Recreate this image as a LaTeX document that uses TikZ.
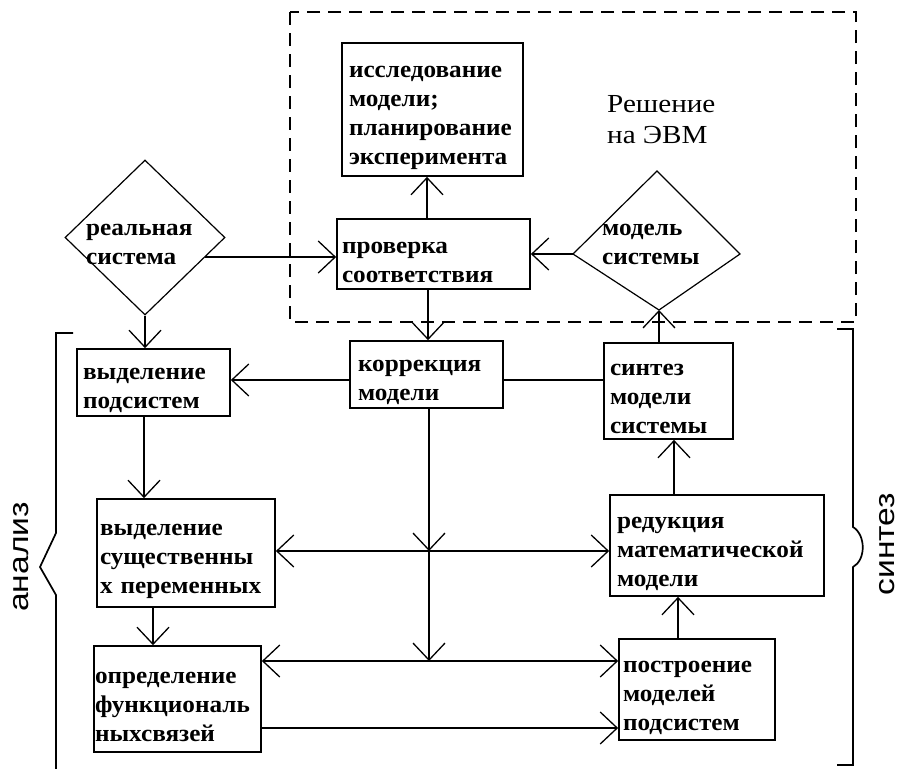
\documentclass[tikz,border=0pt]{standalone}
\usepackage{fontspec}
\setmainfont{Liberation Serif}
\newfontfamily\boxfam[FakeStretch=1.05]{Liberation Serif}
\newfontfamily\reshfam[FakeStretch=1.12]{Liberation Serif}
\newfontfamily\sidefam[FakeStretch=1.2]{Liberation Sans}
\usetikzlibrary{arrows.meta,shapes.geometric,calc}
\newcommand\boxtxt{\boxfam\bfseries\fontsize{24}{29}\selectfont}
\newcommand\reshtxt{\reshfam\fontsize{26}{31}\selectfont}
\newcommand\sidetxt{\sidefam\fontsize{28}{32}\selectfont}
\begin{document}
\begin{tikzpicture}[x=1pt,y=-1pt,
  box/.style={draw, line width=1.7pt, inner ysep=0pt, align=left, font=\boxtxt,
    execute at begin node={\rule{0pt}{28pt}}},
  dtxt/.style={align=left, font=\boxtxt, inner sep=0pt, anchor=west},
  dia/.style={draw, diamond, line width=1.2pt, inner sep=0pt},
  arr/.style={line width=1.7pt, -{Straight Barb[length=17pt,width=32pt,line width=1.3pt]}},
  biarr/.style={line width=1.7pt, {Straight Barb[length=17pt,width=32pt,line width=1.3pt]}-{Straight Barb[length=17pt,width=32pt,line width=1.3pt]}},
  plain/.style={line width=1.7pt},
  brace/.style={line width=1.7pt},
  sidelabel/.style={rotate=90, font=\sidetxt, inner sep=0pt}]
\useasboundingbox[fill=white] (0,0) rectangle (903,769);

% dashed region
\draw[line width=1.6pt, dash pattern=on 13pt off 8pt] (290,12) rectangle (856,322);
\node[font=\reshtxt, align=left, anchor=north west, inner sep=0pt] (resh) at (607,95) {Решение\\на ЭВМ};

% boxes
\node[box, minimum height=133pt, text width=167pt, inner xsep=7pt] (isl) at (432.5,109.5)
  {исследование\\модели;\\планирование\\эксперимента};
\node[box, minimum height=70pt, text width=183pt, inner xsep=5pt] (prov) at (433.5,254)
  {проверка\\соответствия};
\node[box, minimum height=67pt, text width=137pt, inner xsep=8pt] (korr) at (426.5,374.5)
  {коррекция\\модели};
\node[box, minimum height=67pt, text width=141pt, inner xsep=6pt] (vp) at (153.5,382.5)
  {выделение\\подсистем};
\node[box, minimum height=96pt, text width=117pt, inner xsep=6pt] (sint) at (668.5,391)
  {синтез\\модели\\системы};
\node[box, minimum height=108pt, text width=172pt, inner xsep=3pt] (vs) at (186,553)
  {выделение\\существенны\\х переменных};
\node[box, minimum height=101pt, text width=200pt, inner xsep=7pt] (red) at (717,545.5)
  {редукция\\математической\\модели};
\node[box, minimum height=106pt, text width=165pt, inner xsep=1pt] (opr) at (177.5,699)
  {определение\\функциональ\\ныхсвязей};
\node[box, minimum height=101pt, text width=148pt, inner xsep=4pt] (post) at (697,689.5)
  {построение\\моделей\\подсистем};

% diamonds
\node[dia, minimum width=160pt, minimum height=155pt] (real) at (145,237.5) {};
\node[dtxt] (realt) at (86,244) {реальная\\система};
\coordinate (mT) at (657,171);
\coordinate (mR) at (740,254);
\coordinate (mB) at (659,310);
\coordinate (mL) at (573,254);
\draw[line width=1.2pt] (mT) -- (mR) -- (mB) -- (mL) -- cycle;
\node[dtxt] (modt) at (602,244) {модель\\системы};

% connectors
\coordinate (rs) at ($(real.east)!0.25!(real.south)$);
\draw[arr] (rs) -- (prov.west |- rs);
\draw[arr] (mL) -- (prov.east |- mL);
\coordinate (ix) at (427,0);
\draw[arr] (ix |- prov.north) -- (ix |- isl.south);
\coordinate (kx) at (428,0);
\draw[arr] (kx |- prov.south) -- (kx |- korr.north);
\coordinate (ky) at (0,380);
\draw[arr] (korr.west |- ky) -- (vp.east |- ky);
\draw[plain] (korr.east |- ky) -- (sint.west |- ky);
\draw[arr] (mB |- sint.north) -- (mB);
\draw[arr] (real.south) -- (real.south |- vp.north);
\coordinate (vpx) at (144,0);
\draw[arr] (vpx |- vp.south) -- (vpx |- vs.north);
\coordinate (vsx) at (153,0);
\draw[arr] (vsx |- vs.south) -- (vsx |- opr.north);
\coordinate (j1) at (429,551);
\coordinate (j2) at (429,661);
\draw[arr] (j1 |- korr.south) -- (j1);
\draw[arr] (j1) -- (j2);
\draw[biarr] (vs.east |- j1) -- (red.west |- j1);
\draw[biarr] (opr.east |- j2) -- (post.west |- j2);
\coordinate (bot) at (0,728);
\draw[arr] (opr.east |- bot) -- (post.west |- bot);
\coordinate (rx) at (674,0);
\draw[arr] (rx |- red.north) -- (rx |- sint.south);
\coordinate (px) at (678,0);
\draw[arr] (px |- post.north) -- (px |- red.south);

% braces
\draw[brace] (73,333) -- (56,333) -- (56,533) -- (40,567) -- (56,595) -- (56,769);
\draw[brace] (837,329) -- (853,329) -- (853,527) .. controls (866,535) and (866,560) .. (853,567) -- (853,765) -- (837,765);
\node[sidelabel] (an) at (21,557) {анализ};
\node[sidelabel] (sy) at (887,544) {синтез};
\end{tikzpicture}
\end{document}
